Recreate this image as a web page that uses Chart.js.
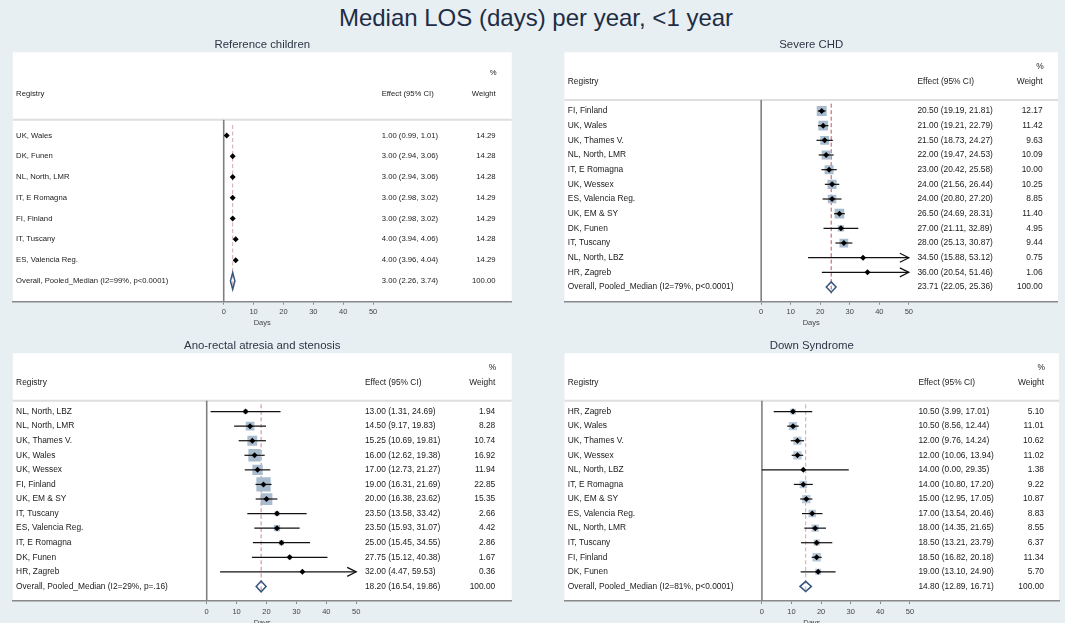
<!DOCTYPE html>
<html>
<head>
<meta charset="utf-8">
<script src="https://cdn.jsdelivr.net/npm/chart.js@4.4.0/dist/chart.umd.min.js"></script>
<style>
  html, body { margin: 0; padding: 0; background: #e8eff2; overflow: hidden; }
  #page { position: relative; width: 1065px; height: 623px; }
  #titulo { position: absolute; left: 0; top: 3px; width: 1072px; text-align: center;
            font: 24px Arial, "Liberation Sans", sans-serif; line-height: 30px; color: #1e2d45; }
  canvas { position: absolute; }
</style>
</head>
<body>
<div id="page">
  <div id="titulo">Median LOS (days) per year, &lt;1 year</div>
  <canvas id="g0" width="532" height="300" style="left:0;top:30px"></canvas>
  <canvas id="g1" width="533" height="300" style="left:532px;top:30px"></canvas>
  <canvas id="g2" width="532" height="300" style="left:0;top:330px"></canvas>
  <canvas id="g3" width="533" height="300" style="left:532px;top:330px"></canvas>
</div>
<script>
// ---- datos ----
const panelTitles = ['Reference children', 'Severe CHD', 'Ano-rectal atresia and stenosis', 'Down Syndrome'];
const xTicks = [0, 10, 20, 30, 40, 50];

const refRegistry = ['UK, Wales', 'DK, Funen', 'NL, North, LMR', 'IT, E Romagna', 'FI, Finland', 'IT, Tuscany', 'ES, Valencia Reg.'];
const refMedian = [1.00, 3.00, 3.00, 3.00, 3.00, 4.00, 4.00];
const refLower = [0.99, 2.94, 2.94, 2.98, 2.98, 3.94, 3.96];
const refUpper = [1.01, 3.06, 3.06, 3.02, 3.02, 4.06, 4.04];
const refWeight = [14.29, 14.28, 14.28, 14.29, 14.29, 14.28, 14.29];

const chdRegistry = ['FI, Finland', 'UK, Wales', 'UK, Thames V.', 'NL, North, LMR', 'IT, E Romagna', 'UK, Wessex',
  'ES, Valencia Reg.', 'UK, EM & SY', 'DK, Funen', 'IT, Tuscany', 'NL, North, LBZ', 'HR, Zagreb'];
const chdMedian = [20.50, 21.00, 21.50, 22.00, 23.00, 24.00, 24.00, 26.50, 27.00, 28.00, 34.50, 36.00];
const chdLower = [19.19, 19.21, 18.73, 19.47, 20.42, 21.56, 20.80, 24.69, 21.11, 25.13, 15.88, 20.54];
const chdUpper = [21.81, 22.79, 24.27, 24.53, 25.58, 26.44, 27.20, 28.31, 32.89, 30.87, 53.12, 51.46];
const chdWeight = [12.17, 11.42, 9.63, 10.09, 10.00, 10.25, 8.85, 11.40, 4.95, 9.44, 0.75, 1.06];

const arsRegistry = ['NL, North, LBZ', 'NL, North, LMR', 'UK, Thames V.', 'UK, Wales', 'UK, Wessex', 'FI, Finland',
  'UK, EM & SY', 'IT, Tuscany', 'ES, Valencia Reg.', 'IT, E Romagna', 'DK, Funen', 'HR, Zagreb'];
const arsMedian = [13.00, 14.50, 15.25, 16.00, 17.00, 19.00, 20.00, 23.50, 23.50, 25.00, 27.75, 32.00];
const arsLower = [1.31, 9.17, 10.69, 12.62, 12.73, 16.31, 16.38, 13.58, 15.93, 15.45, 15.12, 4.47];
const arsUpper = [24.69, 19.83, 19.81, 19.38, 21.27, 21.69, 23.62, 33.42, 31.07, 34.55, 40.38, 59.53];
const arsWeight = [1.94, 8.28, 10.74, 16.92, 11.94, 22.85, 15.35, 2.66, 4.42, 2.86, 1.67, 0.36];

const dsRegistry = ['HR, Zagreb', 'UK, Wales', 'UK, Thames V.', 'UK, Wessex', 'NL, North, LBZ', 'IT, E Romagna',
  'UK, EM & SY', 'ES, Valencia Reg.', 'NL, North, LMR', 'IT, Tuscany', 'FI, Finland', 'DK, Funen'];
const dsMedian = [10.50, 10.50, 12.00, 12.00, 14.00, 14.00, 15.00, 17.00, 18.00, 18.50, 18.50, 19.00];
const dsLower = [3.99, 8.56, 9.76, 10.06, 0.00, 10.80, 12.95, 13.54, 14.35, 13.21, 16.82, 13.10];
const dsUpper = [17.01, 12.44, 14.24, 13.94, 29.35, 17.20, 17.05, 20.46, 21.65, 23.79, 20.18, 24.90];
const dsWeight = [5.10, 11.01, 10.62, 11.02, 1.38, 9.22, 10.87, 8.83, 8.55, 6.37, 11.34, 5.70];

const pooledMedian = [3.00, 23.71, 18.20, 14.80];
const pooledLower = [2.26, 22.05, 16.54, 12.89];
const pooledUpper = [3.74, 25.36, 19.86, 16.71];
const pooledI2 = [99, 79, 29, 81];
const pooledP = ['p<0.0001', 'p<0.0001', 'p=.16', 'p<0.0001'];

const panelData = [
  { registry: refRegistry, median: refMedian, lower: refLower, upper: refUpper, weight: refWeight },
  { registry: chdRegistry, median: chdMedian, lower: chdLower, upper: chdUpper, weight: chdWeight },
  { registry: arsRegistry, median: arsMedian, lower: arsLower, upper: arsUpper, weight: arsWeight },
  { registry: dsRegistry, median: dsMedian, lower: dsLower, upper: dsUpper, weight: dsWeight }
];

// ---- estilo y posiciones de cada panel ----
const FAMILY = 'Arial, "Liberation Sans", sans-serif';
const EFFECT_COL = 52.9; // columna "Effect (95% CI)" en unidades del eje x
const panelLayout = [
  { padLeft: 12.8, padRight: 20.3, padTop: 22.3, scaleH: 28.3, xMin: -70.6, xMax: 96.4,
    weightCol: 91.0, font: 7.7, boxK: 0, dash: '#d6a6b0', diamondH: 0.4 },
  { padLeft: 32.5, padRight: 0, padTop: 22.3, scaleH: 28.3, xMin: -66.6, xMax: 100.5,
    weightCol: 95.3, font: 8.4, boxK: 2.85, dash: '#c4505c', diamondH: 0.35 },
  { padLeft: 12.8, padRight: 20.3, padTop: 23.3, scaleH: 29, xMin: -64.85, xMax: 102.0,
    weightCol: 96.5, font: 8.4, boxK: 3.0, dash: '#cc8590', diamondH: 0.37 },
  { padLeft: 32.5, padRight: 0, padTop: 23.3, scaleH: 29, xMin: -66.7, xMax: 100.4,
    weightCol: 95.3, font: 8.4, boxK: 2.5, dash: '#d6a2ac', diamondH: 0.35 }
];

function segmento(ctx, x1, y1, x2, y2) {
  ctx.beginPath();
  ctx.moveTo(x1, y1);
  ctx.lineTo(x2, y2);
  ctx.stroke();
}

function forestPlugin(d, lay, k) {
  const n = d.registry.length;
  const capMax = xTicks[xTicks.length - 1];
  return {
    id: 'forest' + k,
    beforeDraw(chart) {
      const { ctx, chartArea: a } = chart;
      ctx.save();
      ctx.fillStyle = '#ffffff';
      ctx.fillRect(a.left, a.top, a.right - a.left, a.bottom - a.top);
      ctx.fillStyle = '#2b3544';
      ctx.font = '11.4px ' + FAMILY;
      ctx.textAlign = 'center';
      ctx.textBaseline = 'middle';
      ctx.fillText(panelTitles[k], (a.left + a.right) / 2, a.top - 7.8);
      ctx.restore();
    },
    beforeDatasetsDraw(chart) {
      const { ctx, chartArea: a, scales: { x, y } } = chart;
      ctx.save();
      // linea bajo la cabecera
      const ySep = y.getPixelForValue(-0.75);
      ctx.strokeStyle = '#dedede';
      ctx.lineWidth = 2;
      segmento(ctx, a.left, ySep, a.right, ySep);
      // linea vertical en cero
      const x0 = x.getPixelForValue(0);
      ctx.strokeStyle = '#808080';
      ctx.lineWidth = 1.6;
      segmento(ctx, x0, ySep, x0, a.bottom);
      // mediana combinada (discontinua)
      const xm = x.getPixelForValue(pooledMedian[k]);
      ctx.strokeStyle = lay.dash;
      ctx.lineWidth = 1;
      ctx.setLineDash([4, 2.5]);
      segmento(ctx, xm, y.getPixelForValue(-0.5), xm, y.getPixelForValue(n + 0.45));
      ctx.setLineDash([]);

      // textos
      ctx.fillStyle = '#1a1a1a';
      ctx.font = lay.font + 'px ' + FAMILY;
      ctx.textBaseline = 'middle';
      const xReg = a.left + 3.3;
      const xEff = x.getPixelForValue(EFFECT_COL);
      const xW = x.getPixelForValue(lay.weightCol);
      const fila = (i, reg, eff, w) => {
        const yy = y.getPixelForValue(i);
        ctx.textAlign = 'left';
        ctx.fillText(reg, xReg, yy);
        ctx.fillText(eff, xEff, yy);
        ctx.textAlign = 'right';
        ctx.fillText(w, xW, yy);
      };
      fila(-2, 'Registry', 'Effect (95% CI)', 'Weight');
      ctx.fillText('%', xW + 1, y.getPixelForValue(-3));
      const fmt = (m, l, u) => m.toFixed(2) + ' (' + l.toFixed(2) + ', ' + u.toFixed(2) + ')';
      d.registry.forEach((r, i) => {
        fila(i, r, fmt(d.median[i], d.lower[i], d.upper[i]), d.weight[i].toFixed(2));
      });
      fila(n, 'Overall, Pooled_Median (I2=' + pooledI2[k] + '%, ' + pooledP[k] + ')',
        fmt(pooledMedian[k], pooledLower[k], pooledUpper[k]), '100.00');
      ctx.restore();
    },
    afterDatasetsDraw(chart) {
      const { ctx, scales: { x, y } } = chart;
      ctx.save();
      ctx.strokeStyle = '#111';
      ctx.lineWidth = 1.2;
      d.median.forEach((m, i) => {
        const yy = y.getPixelForValue(i);
        const x1 = x.getPixelForValue(Math.max(d.lower[i], 0));
        const x2 = x.getPixelForValue(Math.min(d.upper[i], capMax));
        segmento(ctx, x1, yy, x2, yy);
        if (d.upper[i] > capMax) {
          ctx.beginPath();
          ctx.moveTo(x2 - 9, yy - 4.5);
          ctx.lineTo(x2, yy);
          ctx.lineTo(x2 - 9, yy + 4.5);
          ctx.stroke();
        }
      });
      // punto estimado encima de la linea del IC
      ctx.fillStyle = '#000';
      d.median.forEach((m, i) => {
        const px = x.getPixelForValue(m), py = y.getPixelForValue(i);
        ctx.beginPath();
        ctx.moveTo(px - 3, py);
        ctx.lineTo(px, py - 3);
        ctx.lineTo(px + 3, py);
        ctx.lineTo(px, py + 3);
        ctx.closePath();
        ctx.fill();
      });
      // rombo combinado
      ctx.strokeStyle = '#34557f';
      ctx.lineWidth = 1.5;
      ctx.beginPath();
      ctx.moveTo(x.getPixelForValue(pooledLower[k]), y.getPixelForValue(n));
      ctx.lineTo(x.getPixelForValue(pooledMedian[k]), y.getPixelForValue(n - lay.diamondH));
      ctx.lineTo(x.getPixelForValue(pooledUpper[k]), y.getPixelForValue(n));
      ctx.lineTo(x.getPixelForValue(pooledMedian[k]), y.getPixelForValue(n + lay.diamondH));
      ctx.closePath();
      ctx.stroke();
      ctx.restore();
    }
  };
}

function crearPanel(k) {
  const d = panelData[k];
  const lay = panelLayout[k];
  const n = d.registry.length;
  const puntos = d.median.map((m, i) => ({ x: m, y: i }));
  new Chart(document.getElementById('g' + k), {
    type: 'scatter',
    data: {
      datasets: [
        {
          // cajas proporcionales al peso
          data: puntos,
          pointStyle: 'rect',
          pointRadius: d.weight.map(w => lay.boxK * Math.sqrt(w) / Math.SQRT2),
          backgroundColor: k === 3 ? '#b9c9d9' : '#a9bccf',
          borderWidth: 0
        }
      ]
    },
    options: {
      responsive: false,
      animation: false,
      devicePixelRatio: 1,
      events: [],
      layout: { padding: { left: lay.padLeft, right: lay.padRight, top: lay.padTop, bottom: 0 } },
      plugins: { legend: { display: false }, tooltip: { enabled: false } },
      scales: {
        x: {
          type: 'linear',
          min: lay.xMin,
          max: lay.xMax,
          afterBuildTicks: s => { s.ticks = xTicks.map(v => ({ value: v })); },
          afterFit: s => { s.height = lay.scaleH; },
          grid: { drawOnChartArea: false, drawTicks: true, tickLength: 3, color: '#888', lineWidth: 1 },
          border: { display: true, color: '#888', width: 1.6 },
          ticks: { color: '#444', font: { size: 7.5, family: FAMILY }, padding: 3, maxRotation: 0, autoSkip: false },
          title: { display: true, text: 'Days', color: '#444', font: { size: 7.5, family: FAMILY },
                   padding: { top: 0, bottom: 3 } }
        },
        y: { type: 'linear', reverse: true, min: -4, max: n + 1, display: false }
      }
    },
    plugins: [forestPlugin(d, lay, k)]
  });
}

[0, 1, 2, 3].forEach(crearPanel);
</script>
</body>
</html>
